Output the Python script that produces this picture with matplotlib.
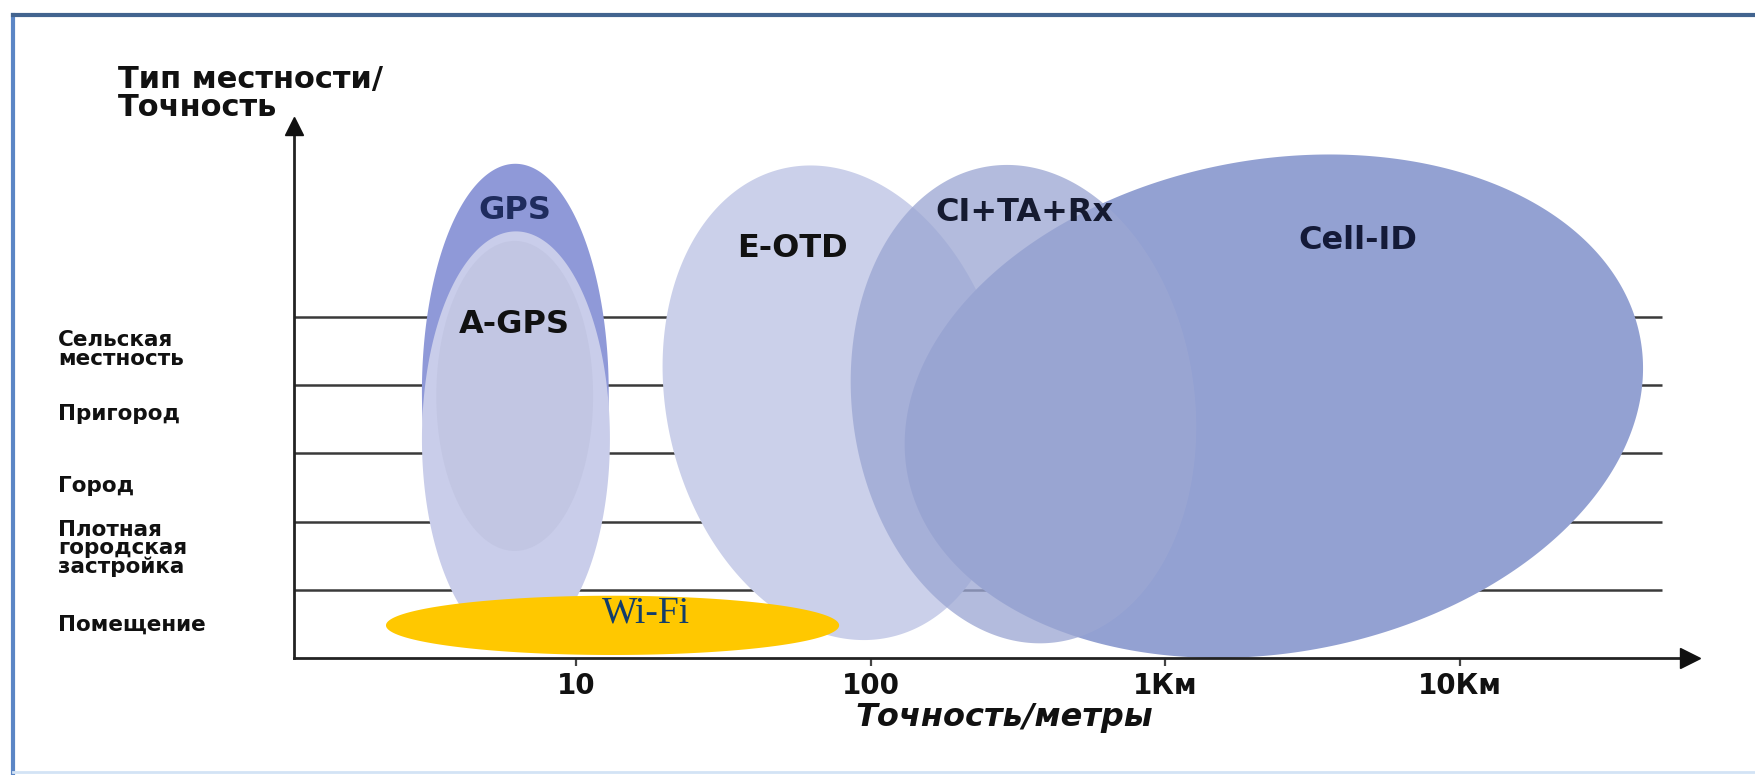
import numpy as np
import matplotlib
matplotlib.use("Agg")
import matplotlib.pyplot as plt
from matplotlib.lines import Line2D
from matplotlib.transforms import blended_transform_factory

plt.rcParams['font.family'] = ['DejaVu Sans']

# ---------------- data ----------------
row_labels = ["Помещение", "Плотная\nгородская\nзастройка", "Город", "Пригород", "Сельская\nместность"]
row_label_pos = [0.49, 1.61, 2.52, 3.57, 4.52]
row_lines = [1, 2, 3, 4, 5]

x_ticks_m = [10, 100, 1000, 10000]
x_tick_labels = ["10", "100", "1Км", "10Км"]

area_names = ["GPS", "A-GPS", "A-GPS (ядро)", "E-OTD", "Cell-ID", "CI+TA+Rx", "Wi-Fi"]
area_center_m = [6.22, 6.25, 6.19, 76.9, 2335, 330, 13.3]
area_center_row = [3.90, 3.21, 3.84, 3.74, 3.69, 3.72, 0.48]
area_half_decades = [0.317, 0.319, 0.266, 0.578, 1.265, 0.581, 0.769]
area_half_rows = [3.34, 3.04, 2.27, 3.52, 3.61, 3.52, 0.434]
area_tilt_deg = [0, 0, 0, 13, 10.5, 8, 0]
area_colors = ["#8f99d8", "#c9cdea", "#c2c6e3", "#cbd0ea", "#93a1d2", "#9ca7d3", "#ffc800"]
area_alpha = [1, 1, 1, 1, 1, 0.77, 1]

label_texts = ["GPS", "A-GPS", "E-OTD", "CI+TA+Rx", "Cell-ID"]
label_m = [6.19, 6.19, 54.2, 332, 4500]
label_row = [6.56, 4.89, 6.0, 6.53, 6.12]
label_colors = ["#1f2c5e", "#111111", "#111111", "#151a30", "#141a38"]

wifi_text = "Wi-Fi"
wifi_m = 17.3
wifi_row = 0.66

# ---------------- figure ----------------
fig = plt.figure(figsize=(17.55, 7.75), dpi=100)
fig.patch.set_facecolor("white")
ax = fig.add_axes([0.1677, 0.1508, 0.7953, 0.6872])
ax.set_xscale("log")
xlim = (10 ** 0.0437, 10 ** 4.781)
ylim = (0, 7.80)
ax.set_xlim(*xlim)
ax.set_ylim(*ylim)
ax.set_facecolor("none")

for s in ["top", "right"]:
    ax.spines[s].set_visible(False)
for s in ["left", "bottom"]:
    ax.spines[s].set_linewidth(2.0)
    ax.spines[s].set_color("#222222")
    ax.spines[s].set_zorder(9)

ax.plot(1, 0, marker=">", ms=14, color="#111111", transform=ax.transAxes, clip_on=False, zorder=10)
ax.plot(0, 1, marker="^", ms=13, color="#111111", transform=ax.transAxes, clip_on=False, zorder=10)

# horizontal terrain lines
ax.hlines(row_lines, xlim[0], 10 ** 4.687, color="#3a3a3a", lw=1.8, zorder=1)

# ellipses drawn in screen-proportional space
bbox = ax.get_position()
W = fig.get_figwidth() * fig.dpi * bbox.width
H = fig.get_figheight() * fig.dpi * bbox.height
lx0, lx1 = np.log10(xlim[0]), np.log10(xlim[1])
px_per_dec = W / (lx1 - lx0)
px_per_row = H / (ylim[1] - ylim[0])
t = np.linspace(0, 2 * np.pi, 500)
for i in range(len(area_names)):
    a = area_half_decades[i] * px_per_dec
    b = area_half_rows[i] * px_per_row
    th = np.radians(area_tilt_deg[i])
    u = a * np.cos(t)
    v = b * np.sin(t)
    du = u * np.cos(th) - v * np.sin(th)
    dv = u * np.sin(th) + v * np.cos(th)
    xs = 10 ** (np.log10(area_center_m[i]) + du / px_per_dec)
    ys = area_center_row[i] + dv / px_per_row
    ax.fill(xs, ys, color=area_colors[i], alpha=area_alpha[i], lw=0, zorder=2 + i)

for txt, m, r, c in zip(label_texts, label_m, label_row, label_colors):
    ax.text(m, r, txt, ha="center", va="center", fontsize=23, fontweight="bold",
            color=c, zorder=20)

ax.text(wifi_m, wifi_row, wifi_text, ha="center", va="center", fontsize=27,
        family=["Liberation Serif", "DejaVu Serif"], color="#123d6b", zorder=20)

# x ticks
ax.set_xticks(x_ticks_m)
ax.set_xticklabels(x_tick_labels, fontsize=20, fontweight="bold", color="#111111")
ax.xaxis.set_minor_locator(matplotlib.ticker.NullLocator())
ax.tick_params(axis="x", direction="out", length=6, width=1.6, color="#444444", pad=4)
ax.set_yticks([])

# row labels
tr = blended_transform_factory(fig.transFigure, ax.transData)
for lab, y in zip(row_labels, row_label_pos):
    ax.text(0.033, y, lab, transform=tr, ha="left", va="center", fontsize=15.5,
            fontweight="bold", color="#111111", linespacing=0.9, clip_on=False)

# axis titles
fig.text(0.067, 0.879, "Тип местности/\nТочность", ha="left", va="center",
         fontsize=22, fontweight="bold", color="#111111", linespacing=0.95)
fig.text(0.572, 0.074, "Точность/метры", ha="center", va="center", fontsize=23,
         fontweight="bold", fontstyle="italic", color="#111111")

# frame
fig.add_artist(Line2D([0.0076, 0.0076], [0.0, 0.981], transform=fig.transFigure,
                      color="#5b86c5", lw=3))
fig.add_artist(Line2D([0.0076, 1.0], [0.981, 0.981], transform=fig.transFigure,
                      color="#42648f", lw=3))
fig.add_artist(Line2D([0.0076, 1.0], [0.004, 0.004], transform=fig.transFigure,
                      color="#d3e3f5", lw=2))

fig.savefig("out.png", dpi=100)
